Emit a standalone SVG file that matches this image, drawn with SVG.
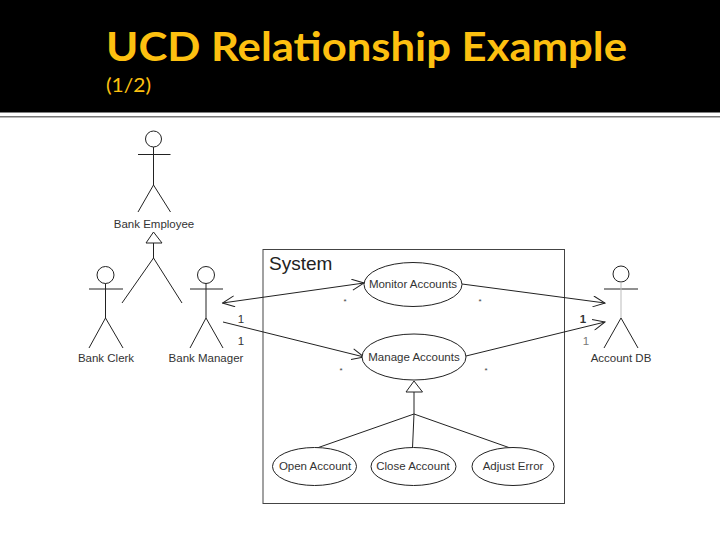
<svg xmlns="http://www.w3.org/2000/svg" width="720" height="540" viewBox="0 0 720 540">
<style>
.l{fill:none;stroke:#222;stroke-width:1}
.n{fill:#fff;stroke:#222;stroke-width:1}
.t{font-family:"Liberation Sans",Arial,sans-serif;font-size:11.5px;fill:#333;text-anchor:middle}
.s{font-family:"Liberation Sans",Arial,sans-serif;font-size:8px;fill:#444;text-anchor:middle}
</style>
<defs>
<marker id="open" viewBox="0 0 14 12" refX="13" refY="6" markerWidth="14" markerHeight="12" markerUnits="userSpaceOnUse" orient="auto-start-reverse">
<path d="M1 0.500L13 6L1 11.500" fill="none" stroke="#222" stroke-width="1"/>
</marker>
</defs>
<rect width="720" height="540" fill="#fff"/>
<rect width="720" height="112.500" fill="#000"/>
<rect y="116" width="720" height="1.500" fill="#777"/>
<text x="106" y="61" font-family="Lato,Carlito,sans-serif" font-size="40" font-weight="bold" fill="#fdc010" textLength="521" lengthAdjust="spacingAndGlyphs">UCD Relationship Example</text>
<text x="106" y="92" font-family="Lato,Carlito,sans-serif" font-size="19" fill="#fdc010" textLength="45" lengthAdjust="spacingAndGlyphs">(1/2)</text>
<g id="system">
<rect x="263" y="249.500" width="301.500" height="254" fill="#fff" stroke="#444" stroke-width="1"/>
<text x="269" y="270" font-family="'Liberation Sans',Arial,sans-serif" font-size="19" fill="#222">System</text>
</g>
<g id="connectors">
<path class="l" d="M222.500 303L364 283" marker-start="url(#open)" marker-end="url(#open)"/>
<path class="l" d="M223 322L364 357" marker-end="url(#open)"/>
<path class="l" d="M462 284L605 303" marker-end="url(#open)"/>
<path class="l" d="M466 356L605 322" marker-end="url(#open)"/>
<path class="l" d="M153.500 243V258M122 303L153.500 258L182 303"/>
<path class="n" d="M153.500 232L162 243H146Z"/>
<path class="l" d="M414 392V414M317 448L414 414L513 449M414 414L412.500 448"/>
<path class="n" d="M414 381L422.500 392H406Z"/>
<text class="t" x="241" y="323">1</text>
<text class="t" x="241" y="345">1</text>
<text class="t" x="583" y="323" style="font-weight:bold">1</text>
<text class="t" x="586" y="345" style="fill:#777">1</text>
<text class="s" x="345" y="304">*</text>
<text class="s" x="480" y="304">*</text>
<text class="s" x="341" y="373">*</text>
<text class="s" x="486" y="373">*</text>
</g>
<g id="bank-employee">
<circle class="n" cx="153.500" cy="139" r="8"/>
<path class="l" d="M138 154.500H170.500M153.500 147V185M138 212L153.500 185L170.500 212"/>
<text class="t" x="154" y="228">Bank Employee</text>
</g>
<g id="bank-clerk">
<circle class="n" cx="105.500" cy="275" r="8.500"/>
<path class="l" d="M89 289H123M105.500 283.500V318M89 348L105.500 318L123 348"/>
<text class="t" x="106" y="362">Bank Clerk</text>
</g>
<g id="bank-manager">
<circle class="n" cx="206" cy="275" r="8.500"/>
<path class="l" d="M190 289H223M206 283.500V318M190 348L206 318L223 348"/>
<text class="t" x="206" y="362">Bank Manager</text>
</g>
<g id="account-db">
<circle class="n" cx="621" cy="274" r="8"/>
<path class="l" d="M604 289H638"/>
<path d="M621 282V318" fill="none" stroke="#bbb"/>
<path class="l" d="M604 348L621 318L638 348"/>
<text class="t" x="621" y="362">Account DB</text>
</g>
<g id="monitor-accounts">
<ellipse class="n" cx="413" cy="284.500" rx="49" ry="22"/>
<text class="t" x="413" y="288">Monitor Accounts</text>
</g>
<g id="manage-accounts">
<ellipse class="n" cx="414" cy="357" rx="52" ry="23"/>
<text class="t" x="414" y="361">Manage Accounts</text>
</g>
<g id="open-account">
<ellipse class="n" cx="314.500" cy="466.500" rx="42" ry="19"/>
<text class="t" x="315" y="470">Open Account</text>
</g>
<g id="close-account">
<ellipse class="n" cx="413.500" cy="466.500" rx="42.500" ry="19"/>
<text class="t" x="413" y="470">Close Account</text>
</g>
<g id="adjust-error">
<ellipse class="n" cx="513" cy="466.500" rx="41" ry="19"/>
<text class="t" x="513" y="470">Adjust Error</text>
</g>
</svg>
